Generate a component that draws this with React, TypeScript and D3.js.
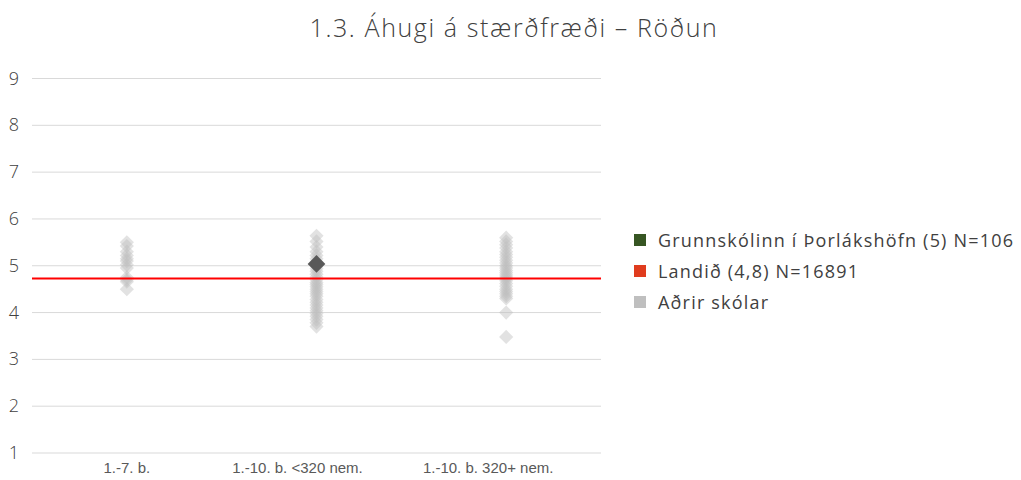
import * as d3 from "d3";
import { useEffect, useRef } from "react";

const categories = ["1.-7. b.", "1.-10. b. <320 nem.", "1.-10. b. 320+ nem."];
// Excel places the category labels a little off the band centres
const labelShift = [0, -19, -18];

// other schools, one list per category
const group1 = [5.5, 5.42, 5.3, 5.22, 5.15, 5.1, 5.02, 4.95, 4.75, 4.7, 4.66, 4.5];
const group2 = [
  5.64, 5.52, 5.4, 5.3, 5.22, 5.15, 5.08, 5.0, 4.94, 4.88, 4.82, 4.76, 4.7, 4.64,
  4.6, 4.55, 4.5, 4.45, 4.4, 4.35, 4.28, 4.22, 4.16, 4.1, 4.04, 3.98, 3.92, 3.85,
  3.78, 3.7,
];
const group3 = [
  5.6, 5.52, 5.45, 5.38, 5.3, 5.24, 5.18, 5.12, 5.06, 5.0, 4.95, 4.9, 4.85, 4.8,
  4.76, 4.72, 4.68, 4.62, 4.56, 4.5, 4.45, 4.4, 4.35, 4.3, 4.0, 3.48,
];
const others = [group1, group2, group3];

const school = { category: "1.-10. b. <320 nem.", value: 5.04 };
const national = 4.73;

const yTicks = [1, 2, 3, 4, 5, 6, 7, 8, 9];
const legendItems = [
  { label: "Grunnskólinn í Þorlákshöfn (5) N=106", color: "#375623" },
  { label: "Landið (4,8) N=16891", color: "#e03c1e" },
  { label: "Aðrir skólar", color: "#bfbfbf" },
];

const font = "'Open Sans', 'Noto Sans', sans-serif";

export default function App() {
  const svgRef = useRef(null);
  const width = 1021;
  const height = 480;

  useEffect(() => {
    const svg = d3.select(svgRef.current);
    svg.selectAll("*").remove();

    const x = d3.scaleBand().domain(categories).range([32, 601]);
    const y = d3.scaleLinear().domain([1, 9]).range([453, 78.5]);
    const diamond = d3.symbol().type(d3.symbolDiamond2).size(128);

    svg
      .append("text")
      .attr("x", 514)
      .attr("y", 37)
      .attr("text-anchor", "middle")
      .attr("font-family", font)
      .attr("font-weight", 300)
      .attr("font-size", 25)
      .attr("letter-spacing", 1.6)
      .attr("fill", "#404040")
      .text("1.3. Áhugi á stærðfræði – Röðun");

    // grid
    svg
      .append("g")
      .selectAll("line")
      .data(yTicks)
      .enter()
      .append("line")
      .attr("x1", 32)
      .attr("x2", 601)
      .attr("y1", (d) => y(d))
      .attr("y2", (d) => y(d))
      .attr("stroke", "#d9d9d9")
      .attr("stroke-width", 1);

    svg
      .append("g")
      .selectAll("text")
      .data(yTicks)
      .enter()
      .append("text")
      .attr("x", 14)
      .attr("y", (d) => y(d) + 6)
      .attr("text-anchor", "middle")
      .attr("font-family", font)
      .attr("font-weight", 300)
      .attr("font-size", 18)
      .attr("fill", "#404040")
      .text((d) => d);

    svg
      .append("g")
      .selectAll("text")
      .data(categories)
      .enter()
      .append("text")
      .attr("x", (d, i) => (x(d) || 0) + x.bandwidth() / 2 + labelShift[i])
      .attr("y", 473)
      .attr("text-anchor", "middle")
      .attr("font-family", "'Liberation Sans', Arial, sans-serif")
      .attr("font-size", 15)
      .attr("fill", "#595959")
      .text((d) => d);

    // other schools
    others.forEach((vals, i) => {
      const cx = (x(categories[i]) || 0) + x.bandwidth() / 2;
      svg
        .append("g")
        .selectAll("path")
        .data(vals)
        .enter()
        .append("path")
        .attr("d", diamond)
        .attr("transform", (d) => `translate(${cx},${y(d)})`)
        .attr("fill", "#bfbfbf")
        .attr("fill-opacity", 0.45);
    });

    // national line
    svg
      .append("line")
      .attr("x1", 32)
      .attr("x2", 601)
      .attr("y1", y(national))
      .attr("y2", y(national))
      .attr("stroke", "#ff0000")
      .attr("stroke-width", 2);

    // this school
    svg
      .append("path")
      .attr("d", d3.symbol().type(d3.symbolDiamond2).size(200))
      .attr(
        "transform",
        `translate(${(x(school.category) || 0) + x.bandwidth() / 2},${y(school.value)})`,
      )
      .attr("fill", "#595959");

    // legend
    const lg = svg
      .append("g")
      .selectAll("g")
      .data(legendItems)
      .enter()
      .append("g")
      .attr("transform", (_, i) => `translate(634,${240 + i * 31})`);
    lg.append("rect")
      .attr("x", 0)
      .attr("y", -6)
      .attr("width", 12)
      .attr("height", 12)
      .attr("fill", (d) => d.color);
    lg.append("text")
      .attr("x", 24)
      .attr("y", 7)
      .attr("font-family", font)
      .attr("font-size", 18)
      .attr("letter-spacing", 1.2)
      .attr("fill", "#404040")
      .text((d) => d.label);
  }, []);

  return (
    <svg
      ref={svgRef}
      width={width}
      height={height}
      style={{ position: "absolute", left: 0, top: 0, background: "#fff" }}
    ></svg>
  );
}
